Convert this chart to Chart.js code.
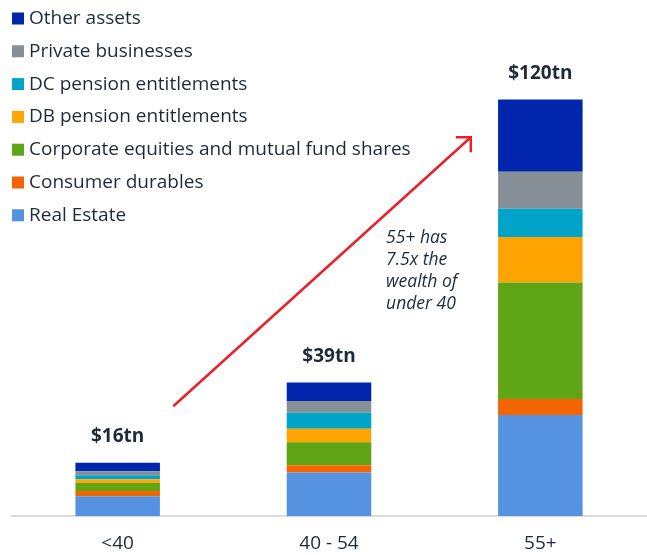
<!DOCTYPE html>
<html>
<head>
<meta charset="utf-8">
<script src="https://cdn.jsdelivr.net/npm/chart.js@4.4.0/dist/chart.umd.min.js"></script>
<style>
  body { margin: 0; background: #fff; }
  #wrap { width: 647px; height: 555px; position: relative; }
</style>
</head>
<body>
<div id="wrap"><canvas id="wealth-chart" width="647" height="555"></canvas></div>
<script>
// age groups and values (trillions of dollars)
var ageGroups = ['<40', '40 - 54', '55+'];
var totalLabels = ['$16tn', '$39tn', '$120tn'];

var realEstate = [5.7, 12.5, 29.1];
var consumerDurables = [1.5, 2.1, 4.6];
var equities = [2.3, 6.6, 33.5];
var dbPension = [1.05, 3.9, 13.1];
var dcPension = [1.15, 4.6, 8.1];
var privateBiz = [1.2, 3.4, 10.7];
var otherAssets = [2.4, 5.3, 20.8];

var noteLines = ['55+ has', '7.5x the', 'wealth of', 'under 40'];

var textColor = '#1c2b3a';
var fontFamily = '"Open Sans", sans-serif';

function ds(label, data, color) {
    return {
        label: label,
        data: data,
        backgroundColor: color,
        borderWidth: 0,
        barPercentage: 0.4,
        categoryPercentage: 1.0
    };
}

// draws the $ totals, the arrow + note and the legend in the top left
var extrasPlugin = {
    id: 'extras',
    afterDatasetsDraw: function(chart) {
        var ctx = chart.ctx;
        var xs = chart.scales.x;
        var ys = chart.scales.y;
        var last = chart.getDatasetMeta(chart.data.datasets.length - 1);

        ctx.save();
        ctx.fillStyle = textColor;
        ctx.font = 'bold 19px ' + fontFamily;
        ctx.textAlign = 'center';
        ctx.textBaseline = 'middle';
        last.data.forEach(function(bar, i) {
            ctx.fillText(totalLabels[i], bar.x, bar.y - 26);
        });

        // arrow
        var x0 = xs.getPixelForValue(0.263), y0 = ys.getPixelForValue(31.6);
        var x1 = xs.getPixelForValue(1.671), y1 = ys.getPixelForValue(109);
        ctx.strokeStyle = '#e8202a';
        ctx.lineWidth = 2.5;
        ctx.lineCap = 'butt';
        ctx.beginPath();
        ctx.moveTo(x0, y0);
        ctx.lineTo(x1, y1);
        ctx.stroke();
        ctx.beginPath();
        ctx.moveTo(x1 - 15, y1);
        ctx.lineTo(x1, y1);
        ctx.lineTo(x1, y1 + 15);
        ctx.stroke();

        // note
        ctx.fillStyle = textColor;
        ctx.font = 'italic 17.5px ' + fontFamily;
        ctx.textAlign = 'left';
        var nx = xs.getPixelForValue(1.27);
        var ny = ys.getPixelForValue(80);
        noteLines.forEach(function(t, i) {
            ctx.fillText(t, nx, ny + i * 22);
        });

        // legend, top item = top of stack
        var sets = chart.data.datasets.slice().reverse();
        ctx.font = '19px ' + fontFamily;
        sets.forEach(function(d, i) {
            var cy = 18.5 + i * 32.8;
            ctx.fillStyle = d.backgroundColor;
            ctx.fillRect(12, cy - 6, 12, 12);
            ctx.fillStyle = textColor;
            ctx.fillText(d.label, 29, cy);
        });
        ctx.restore();
    }
};

var wealthChart = new Chart(document.getElementById('wealth-chart').getContext('2d'), {
    type: 'bar',
    data: {
        labels: ageGroups,
        datasets: [
            ds('Real Estate', realEstate, '#5592e0'),
            ds('Consumer durables', consumerDurables, '#f46400'),
            ds('Corporate equities and mutual fund shares', equities, '#5fa515'),
            ds('DB pension entitlements', dbPension, '#ffa400'),
            ds('DC pension entitlements', dcPension, '#00a4c8'),
            ds('Private businesses', privateBiz, '#879097'),
            ds('Other assets', otherAssets, '#0225ad')
        ]
    },
    options: {
        responsive: false,
        animation: false,
        layout: { padding: { left: 12, right: 1, top: 0, bottom: 0 } },
        plugins: {
            legend: { display: false },
            tooltip: { enabled: false }
        },
        scales: {
            x: {
                stacked: true,
                grid: { display: false, drawTicks: false },
                border: { display: true, color: '#dadada', width: 2 },
                ticks: {
                    color: textColor,
                    padding: 16,
                    font: { family: fontFamily, size: 19 }
                },
                afterFit: function(scale) { scale.height = 39; }
            },
            y: {
                stacked: true,
                display: false,
                min: 0,
                max: 148.5
            }
        }
    },
    plugins: [extrasPlugin]
});
</script>
</body>
</html>
